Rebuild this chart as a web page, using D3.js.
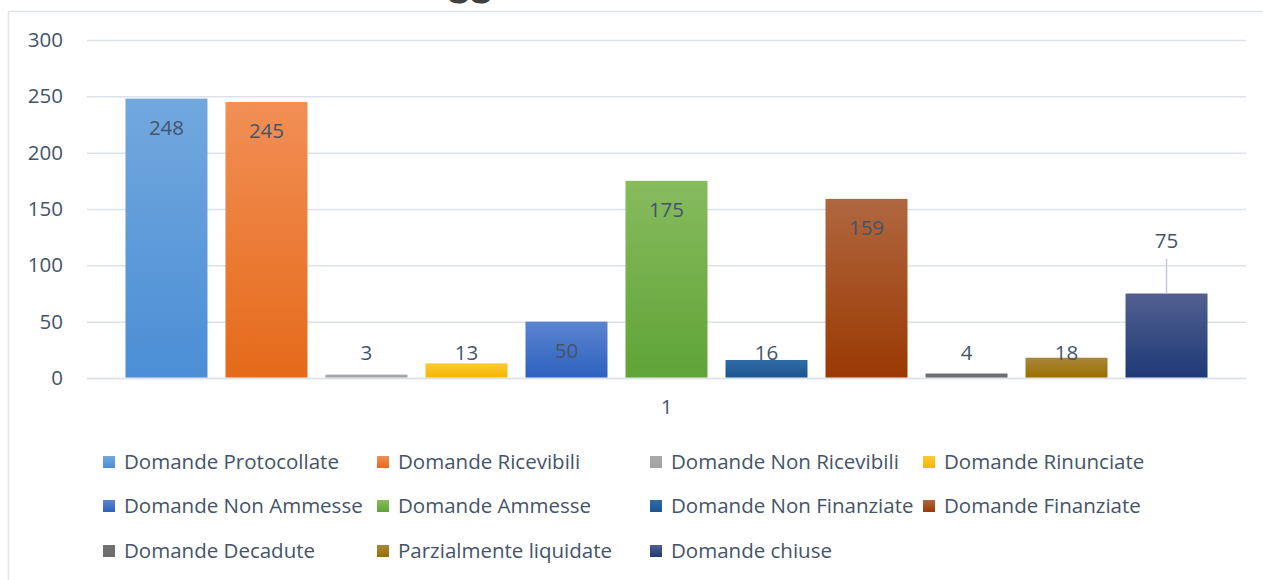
<!DOCTYPE html>
<html><head><meta charset="utf-8">
<script src="https://cdn.jsdelivr.net/npm/d3@7"></script>
<style>html,body{margin:0;padding:0;background:#fff;overflow:hidden}</style>
</head><body>
<svg id="chart" width="1263" height="580"></svg>
<script>
const categories = ["1"];
const seriesNames = ["Domande Protocollate","Domande Ricevibili","Domande Non Ricevibili","Domande Rinunciate","Domande Non Ammesse","Domande Ammesse","Domande Non Finanziate","Domande Finanziate","Domande Decadute","Parzialmente liquidate","Domande chiuse"];
const seriesValues = [248,245,3,13,50,175,16,159,4,18,75];
const yTicks = [0,50,100,150,200,250,300];
const colorsTop = ["#72a8de","#f28f55","#a8a8a8","#ffc935","#5b84d0","#87bb5e","#316ca6","#b0673f","#727272","#a9873a","#52608f"];
const colorsBottom = ["#4b8ed5","#e56a1a","#a3a3a3","#f3b700","#2d62be","#5fa436","#1c548f","#9a3903","#6b6b6b","#9b6e00","#1d3977"];

(function(){
const font = "'Open Sans', Lato, sans-serif";
const textColor = "#44546a";
const fs = 20.5;
const svg = d3.select("#chart");
const mLeft = 87, mRight = 1246, mTop = 40, mBottom = 378;

// frame
svg.append("path").attr("d","M8.5,580 V11.5 H1263").attr("fill","none").attr("stroke","#dfe4eb").attr("stroke-width",1.5);
// partially cut title
svg.append("text").attr("x",448).attr("y",-4).attr("font-family","Lato, sans-serif").attr("font-weight","bold").attr("font-size",42).attr("fill","#404040").text("gg");

const y = d3.scaleLinear().domain([0,300]).range([mBottom, mTop]);
const x0 = d3.scaleBand().domain(categories).range([mLeft, mRight]).paddingInner(0).paddingOuter(0.0268);
const x1 = d3.scaleBand().domain(seriesNames).range([0, x0.bandwidth()]).paddingInner(0.18).paddingOuter(0.09);

const defs = svg.append("defs");
seriesNames.forEach((s,i)=>{
  const g = defs.append("linearGradient").attr("id","g"+i).attr("x1",0).attr("y1",0).attr("x2",0).attr("y2",1);
  g.append("stop").attr("offset","0%").attr("stop-color",colorsTop[i]);
  g.append("stop").attr("offset","100%").attr("stop-color",colorsBottom[i]);
});

// grid + y axis
const yAxis = d3.axisLeft(y).tickValues(yTicks).tickSize(-(mRight-mLeft)).tickPadding(24).tickFormat(d3.format("d"));
const ga = svg.append("g").attr("transform",`translate(${mLeft},0)`).call(yAxis);
ga.select(".domain").remove();
ga.selectAll(".tick line").attr("stroke","#dde2e9").attr("stroke-width",1.5);
ga.selectAll(".tick text").attr("font-family",font).attr("font-size",fs).attr("fill",textColor);

// x axis
const xAxis = d3.axisBottom(x0).tickSize(0).tickPadding(21);
const gx = svg.append("g").attr("transform",`translate(0,${mBottom})`).call(xAxis);
gx.select(".domain").attr("stroke","#dde2e9").attr("stroke-width",1.5);
gx.selectAll(".tick text").attr("font-family",font).attr("font-size",fs).attr("fill",textColor);

// bars
const data = seriesNames.map((s,i)=>({s, v: seriesValues[i], i}));
const gb = svg.append("g").attr("transform",`translate(${x0(categories[0])},0)`);
gb.selectAll("rect").data(data).join("rect")
  .attr("x",d=>x1(d.s)).attr("width",x1.bandwidth())
  .attr("y",d=>y(d.v)).attr("height",d=>y(0)-y(d.v)-0.5)
  .attr("fill",d=>`url(#g${d.i})`);

// labels
const movedLabel = "Domande chiuse";
data.forEach(d=>{
  const cx = x1(d.s)+x1.bandwidth()/2;
  let ly = Math.min(y(d.v)+29, y(0)-25);
  if (d.s === movedLabel) {
    ly = y(d.v) - 53;
    gb.append("line").attr("x1",cx).attr("x2",cx).attr("y1",ly+18).attr("y2",y(d.v)).attr("stroke","#c5ccd6").attr("stroke-width",1.5);
  }
  gb.append("text").attr("x",cx).attr("y",ly).attr("dy","0.35em").attr("text-anchor","middle")
    .attr("font-family",font).attr("font-size",fs).attr("fill",textColor).text(d.v);
});

// legend
const legX = [103,377,650,923], legY = [462,506,551];
const lg = svg.append("g");
data.forEach((d,i)=>{
  const cx = legX[i%4], cy = legY[Math.floor(i/4)];
  const g = lg.append("g").attr("transform",`translate(${cx},${cy})`);
  g.append("rect").attr("x",0).attr("y",-6).attr("width",12).attr("height",12).attr("fill",`url(#g${i})`);
  g.append("text").attr("x",21).attr("y",0).attr("dy","0.35em").attr("font-family",font).attr("font-size",fs).attr("fill",textColor).text(d.s);
});
})();
</script>
</body></html>
